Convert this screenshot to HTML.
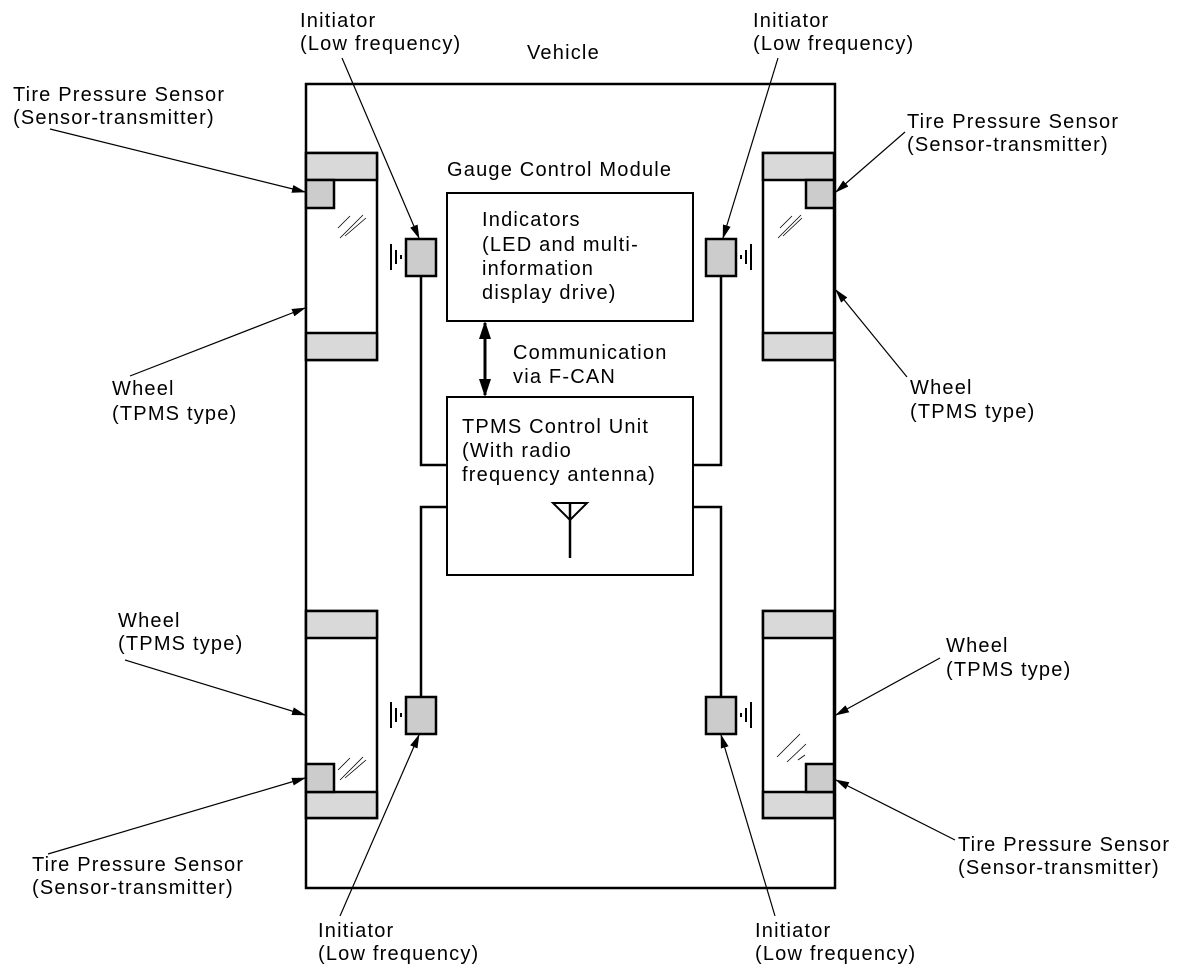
<!DOCTYPE html>
<html><head><meta charset="utf-8"><style>
html,body{margin:0;padding:0;background:#fff;}
svg{display:block;}
text{font-family:"Liberation Sans",Arial,sans-serif;font-size:20px;letter-spacing:1.2px;fill:#000;}
</style></head><body>
<svg width="1182" height="974" viewBox="0 0 1182 974" xmlns="http://www.w3.org/2000/svg">
<defs>
<marker id="a" markerWidth="14" markerHeight="10" refX="13" refY="5" orient="auto" markerUnits="userSpaceOnUse">
<path d="M0,1 L14,5 L0,9 Z" fill="#000"/></marker>
<marker id="b" markerWidth="18" markerHeight="14" refX="16" refY="7" orient="auto-start-reverse" markerUnits="userSpaceOnUse">
<path d="M0,1 L18,7 L0,13 Z" fill="#000"/></marker>
</defs>
<rect x="306" y="84" width="529" height="804" fill="none" stroke="#000" stroke-width="2.5"/>
<g stroke="#000" stroke-width="2.5">
<rect x="306" y="153" width="71" height="207" fill="#fff"/>
<rect x="306" y="153" width="71" height="27" fill="#d9d9d9"/>
<rect x="306" y="333" width="71" height="27" fill="#d9d9d9"/>
<rect x="306" y="180" width="28" height="28" fill="#cccccc"/>
<rect x="306" y="611" width="71" height="207" fill="#fff"/>
<rect x="306" y="611" width="71" height="27" fill="#d9d9d9"/>
<rect x="306" y="792" width="71" height="26" fill="#d9d9d9"/>
<rect x="306" y="764" width="28" height="28" fill="#cccccc"/>
<rect x="763" y="153" width="71" height="207" fill="#fff"/>
<rect x="763" y="153" width="71" height="27" fill="#d9d9d9"/>
<rect x="763" y="333" width="71" height="27" fill="#d9d9d9"/>
<rect x="806" y="180" width="28" height="28" fill="#cccccc"/>
<rect x="763" y="611" width="71" height="207" fill="#fff"/>
<rect x="763" y="611" width="71" height="27" fill="#d9d9d9"/>
<rect x="763" y="792" width="71" height="26" fill="#d9d9d9"/>
<rect x="806" y="764" width="28" height="28" fill="#cccccc"/>
</g>
<g stroke="#000" stroke-width="0.8">
<path d="M340,238 L363,215 M345,236 L366,218 M338,228 L350,216"/>
<path d="M340,780 L363,757 M345,778 L366,760 M338,770 L350,758"/>
<path d="M778,238 L801,215 M783,236 L802,218 M780,228 L792,216"/>
<path d="M777,757 L800,734 M787,762 L806,744 M798,760 L805,755"/>
</g>
<rect x="447" y="193" width="246" height="128" fill="#fff" stroke="#000" stroke-width="2"/>
<rect x="447" y="397" width="246" height="178" fill="#fff" stroke="#000" stroke-width="2"/>
<g stroke="#000" stroke-width="2.5" fill="none">
<path d="M421,276 V465 H447"/>
<path d="M721,276 V465 H693"/>
<path d="M421,696 V507 H447"/>
<path d="M721,696 V507 H693"/>
<path d="M570,503 V558"/>
<path d="M553,503 H587 L570,520 Z" stroke-width="2"/>
</g>
<g stroke="#000" stroke-width="2.5" fill="#cccccc">
<rect x="406" y="239" width="30" height="37"/>
<rect x="706" y="239" width="30" height="37"/>
<rect x="406" y="697" width="30" height="37"/>
<rect x="706" y="697" width="30" height="37"/>
</g>
<g stroke="#000" stroke-width="2">
<path d="M391,244 V270 M396,250 V264 M401,255 V259"/>
<path d="M391,702 V728 M396,708 V722 M401,713 V717"/>
<path d="M751,244 V270 M746,250 V264 M741,255 V259"/>
<path d="M751,702 V728 M746,708 V722 M741,713 V717"/>
</g>
<line x1="485" y1="323" x2="485" y2="395" stroke="#000" stroke-width="3" marker-start="url(#b)" marker-end="url(#b)"/>
<g stroke="#000" stroke-width="1.2" marker-end="url(#a)">
<line x1="50" y1="129" x2="305" y2="192"/>
<line x1="342" y1="58" x2="419" y2="238"/>
<line x1="130" y1="376" x2="305" y2="308"/>
<line x1="778" y1="58" x2="723" y2="238"/>
<line x1="905" y1="132" x2="836" y2="192"/>
<line x1="907" y1="377" x2="836" y2="290"/>
<line x1="125" y1="660" x2="305" y2="715"/>
<line x1="48" y1="854" x2="305" y2="778"/>
<line x1="340" y1="916" x2="419" y2="735"/>
<line x1="940" y1="658" x2="836" y2="715"/>
<line x1="955" y1="840" x2="836" y2="780"/>
<line x1="775" y1="916" x2="721" y2="735"/>
</g>
<text x="300" y="27">Initiator</text>
<text x="300" y="50">(Low frequency)</text>
<text x="753" y="27">Initiator</text>
<text x="753" y="50">(Low frequency)</text>
<text x="527" y="59">Vehicle</text>
<text x="13" y="101">Tire Pressure Sensor</text>
<text x="13" y="124">(Sensor-transmitter)</text>
<text x="907" y="128">Tire Pressure Sensor</text>
<text x="907" y="151">(Sensor-transmitter)</text>
<text x="447" y="176">Gauge Control Module</text>
<text x="482" y="226">Indicators</text>
<text x="482" y="251">(LED and multi-</text>
<text x="482" y="275">information</text>
<text x="482" y="299">display drive)</text>
<text x="513" y="359">Communication</text>
<text x="513" y="383">via F-CAN</text>
<text x="462" y="433">TPMS Control Unit</text>
<text x="462" y="457">(With radio</text>
<text x="462" y="481">frequency antenna)</text>
<text x="112" y="395">Wheel</text>
<text x="112" y="420">(TPMS type)</text>
<text x="910" y="394">Wheel</text>
<text x="910" y="418">(TPMS type)</text>
<text x="118" y="627">Wheel</text>
<text x="118" y="650">(TPMS type)</text>
<text x="946" y="652">Wheel</text>
<text x="946" y="676">(TPMS type)</text>
<text x="32" y="871">Tire Pressure Sensor</text>
<text x="32" y="894">(Sensor-transmitter)</text>
<text x="958" y="851">Tire Pressure Sensor</text>
<text x="958" y="874">(Sensor-transmitter)</text>
<text x="318" y="937">Initiator</text>
<text x="318" y="960">(Low frequency)</text>
<text x="755" y="937">Initiator</text>
<text x="755" y="960">(Low frequency)</text>
</svg>
</body></html>
